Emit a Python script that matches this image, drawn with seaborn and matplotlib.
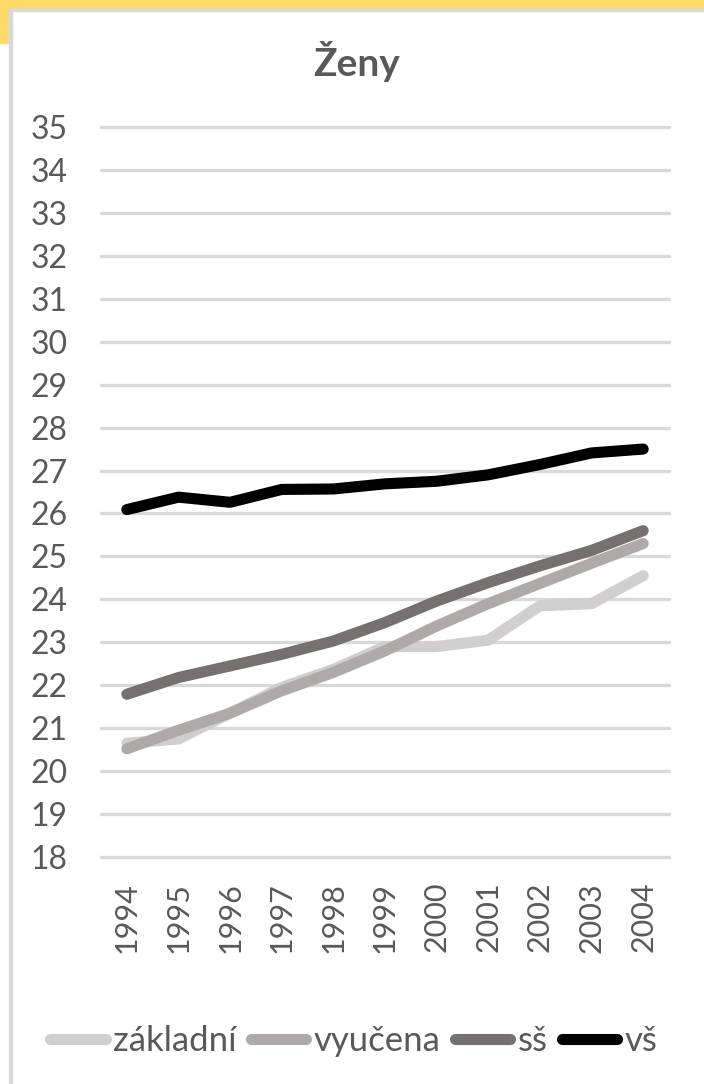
import matplotlib
matplotlib.use('Agg')
import matplotlib.pyplot as plt
from matplotlib.lines import Line2D
from matplotlib.patches import Rectangle
import pandas as pd
import seaborn as sns

# data (Ženy)
years = [1994, 1995, 1996, 1997, 1998, 1999, 2000, 2001, 2002, 2003, 2004]
zakladni = [20.65, 20.75, 21.35, 21.95, 22.37, 22.9, 22.9, 23.05, 23.85, 23.9, 24.55]
vyucena = [20.52, 20.95, 21.35, 21.87, 22.3, 22.8, 23.38, 23.9, 24.37, 24.84, 25.3]
ss = [21.79, 22.18, 22.45, 22.72, 23.03, 23.46, 23.96, 24.39, 24.78, 25.14, 25.6]
vs = [26.09, 26.38, 26.26, 26.56, 26.57, 26.69, 26.75, 26.9, 27.14, 27.41, 27.5]

series_names = ['základní', 'vyučena', 'sš', 'vš']
colors = ['#d0cece', '#aeaaaa', '#767171', '#000000']
y_ticks = list(range(18, 36))
title = 'Ženy'

df = pd.DataFrame({
    'rok': years * 4,
    'hodnota': zakladni + vyucena + ss + vs,
    'skupina': sum([[n] * len(years) for n in series_names], []),
})

sns.set_style('white')
plt.rcParams['font.family'] = ['Lato', 'DejaVu Sans']
text_col = '#595959'

fig = plt.figure(figsize=(7.04, 10.84), dpi=100)
ax = fig.add_axes([101 / 704, 1 - 857 / 1084, 568 / 704, 730 / 1084])

# frame decoration (yellow band + grey border)
fig.patches.append(Rectangle((0, 1 - 9 / 1084), 1, 9 / 1084, transform=fig.transFigure,
                             color='#ffd966', zorder=0))
fig.patches.append(Rectangle((0, 1 - 43 / 1084), 9 / 704, 43 / 1084, transform=fig.transFigure,
                             color='#ffd966', zorder=0))
fig.patches.append(Rectangle((9 / 704, 1 - 11 / 1084), 1, 2 / 1084, transform=fig.transFigure,
                             color='#d9d9d9', zorder=1))
fig.patches.append(Rectangle((9 / 704, 0), 3 / 704, 1 - 9 / 1084, transform=fig.transFigure,
                             color='#d9d9d9', zorder=1))

sns.lineplot(data=df, x='rok', y='hodnota', hue='skupina', hue_order=series_names,
             palette=colors, linewidth=8, legend=False, ax=ax,
             solid_capstyle='round', solid_joinstyle='round')

ax.set_xlim(years[0] - 0.5, years[-1] + 0.5)
ax.set_ylim(18, 35)
ax.set_yticks(y_ticks)
ax.set_xticks(years)
ax.set_xticklabels([str(y) for y in years], rotation=90, va='top')
ax.yaxis.grid(True, color='#d9d9d9', linewidth=2.4)
ax.set_axisbelow(True)
for gl in ax.get_ygridlines():
    gl.set_clip_on(False)
for s in ax.spines.values():
    s.set_visible(False)
ax.tick_params(axis='y', length=0, pad=24, labelsize=23, labelcolor=text_col)
ax.tick_params(axis='x', length=0, pad=18, labelsize=22, labelcolor=text_col)
ax.set_xlabel('')
ax.set_ylabel('')

fig.text(357 / 704, 1 - 62 / 1084, title, ha='center', va='center',
         fontsize=28, fontweight='bold', color=text_col)

handles = [Line2D([0], [0], color=c, linewidth=8, solid_capstyle='round') for c in colors]
fig.legend(handles, series_names, loc='center', bbox_to_anchor=(354 / 704, 1 - 1041 / 1084),
           ncol=4, frameon=False, fontsize=25, labelcolor=text_col,
           handlelength=1.6, handletextpad=0.22, columnspacing=0.4, borderaxespad=0)

plt.savefig('out.png', dpi=100)
plt.close()
